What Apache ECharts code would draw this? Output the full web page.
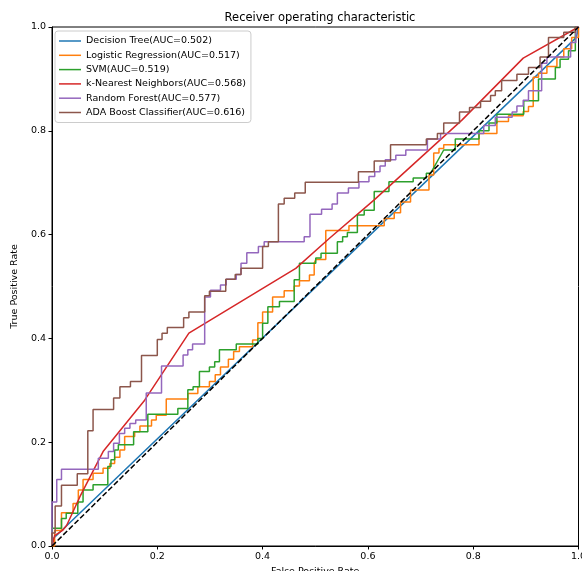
<!DOCTYPE html>
<html><head><meta charset="utf-8">
<script src="https://cdn.jsdelivr.net/npm/echarts@6/dist/echarts.min.js"></script>
<style>html,body{margin:0;padding:0;background:#fff}#c{width:582px;height:571px}</style>
</head><body><div id="c"></div><script>
const titleText = 'Receiver operating characteristic';
const xName = 'False Positive Rate';
const yName = 'True Positive Rate';
const seriesNames = [
  'Decision Tree(AUC=0.502)',
  'Logistic Regression(AUC=0.517)',
  'SVM(AUC=0.519)',
  'k-Nearest Neighbors(AUC=0.568)',
  'Random Forest(AUC=0.577)',
  'ADA Boost Classifier(AUC=0.616)'
];
const colors = ['#1f77b4','#ff7f0e','#2ca02c','#d62728','#9467bd','#8c564b'];

const decisionTree = [[0,0],[0.003,0.015],[0.996,0.98],[1,1]];

const logistic = [[0,0],[0.005,0],[0.005,0.03],[0.018,0.03],[0.018,0.064],[0.04,0.064],[0.04,0.082],[0.05,0.082],[0.05,0.108],[0.059,0.108],[0.059,0.128],[0.078,0.128],[0.078,0.14],[0.097,0.14],[0.097,0.15],[0.11,0.15],[0.11,0.159],[0.119,0.159],[0.119,0.171],[0.129,0.171],[0.129,0.185],[0.138,0.185],[0.138,0.211],[0.157,0.211],[0.157,0.22],[0.167,0.22],[0.167,0.231],[0.189,0.231],[0.189,0.243],[0.198,0.243],[0.198,0.252],[0.217,0.252],[0.217,0.283],[0.258,0.283],[0.258,0.294],[0.277,0.294],[0.277,0.307],[0.299,0.307],[0.299,0.317],[0.31,0.317],[0.31,0.33],[0.32,0.33],[0.32,0.345],[0.335,0.345],[0.335,0.36],[0.345,0.36],[0.345,0.375],[0.356,0.375],[0.356,0.384],[0.381,0.384],[0.381,0.397],[0.391,0.397],[0.391,0.43],[0.4,0.43],[0.4,0.451],[0.419,0.451],[0.419,0.48],[0.441,0.48],[0.441,0.492],[0.46,0.492],[0.46,0.501],[0.47,0.501],[0.47,0.511],[0.489,0.511],[0.489,0.522],[0.498,0.522],[0.498,0.545],[0.501,0.545],[0.501,0.552],[0.52,0.552],[0.52,0.608],[0.564,0.608],[0.564,0.617],[0.631,0.617],[0.631,0.631],[0.65,0.631],[0.65,0.642],[0.662,0.642],[0.662,0.663],[0.681,0.663],[0.681,0.686],[0.716,0.686],[0.716,0.715],[0.725,0.715],[0.725,0.757],[0.735,0.757],[0.735,0.766],[0.744,0.766],[0.744,0.773],[0.811,0.773],[0.811,0.795],[0.845,0.795],[0.845,0.818],[0.867,0.818],[0.867,0.829],[0.895,0.829],[0.895,0.837],[0.905,0.837],[0.905,0.847],[0.914,0.847],[0.914,0.903],[0.924,0.903],[0.924,0.911],[0.94,0.911],[0.94,0.924],[0.959,0.924],[0.959,0.942],[0.972,0.942],[0.972,0.958],[0.987,0.958],[0.987,0.98],[1,0.98],[1,1]];

const svm = [[0,0],[0,0.034],[0.018,0.034],[0.018,0.053],[0.027,0.053],[0.027,0.063],[0.049,0.063],[0.049,0.085],[0.059,0.085],[0.059,0.108],[0.078,0.108],[0.078,0.118],[0.106,0.118],[0.106,0.153],[0.112,0.153],[0.112,0.166],[0.119,0.166],[0.119,0.185],[0.126,0.185],[0.126,0.195],[0.155,0.195],[0.155,0.22],[0.182,0.22],[0.182,0.254],[0.239,0.254],[0.239,0.265],[0.258,0.265],[0.258,0.301],[0.268,0.301],[0.268,0.307],[0.28,0.307],[0.28,0.336],[0.299,0.336],[0.299,0.345],[0.309,0.345],[0.309,0.355],[0.318,0.355],[0.318,0.378],[0.35,0.378],[0.35,0.389],[0.391,0.389],[0.391,0.4],[0.4,0.4],[0.4,0.429],[0.41,0.429],[0.41,0.461],[0.432,0.461],[0.432,0.471],[0.46,0.471],[0.46,0.513],[0.47,0.513],[0.47,0.545],[0.501,0.545],[0.501,0.555],[0.511,0.555],[0.511,0.564],[0.542,0.564],[0.542,0.586],[0.552,0.586],[0.552,0.596],[0.561,0.596],[0.561,0.604],[0.58,0.604],[0.58,0.638],[0.593,0.638],[0.593,0.647],[0.612,0.647],[0.612,0.683],[0.64,0.683],[0.64,0.702],[0.686,0.702],[0.686,0.709],[0.711,0.709],[0.711,0.718],[0.719,0.718],[0.744,0.763],[0.766,0.763],[0.766,0.784],[0.811,0.784],[0.811,0.8],[0.83,0.8],[0.83,0.815],[0.845,0.815],[0.845,0.832],[0.896,0.832],[0.896,0.858],[0.924,0.858],[0.924,0.9],[0.956,0.9],[0.956,0.922],[0.965,0.922],[0.965,0.938],[0.981,0.938],[0.981,0.954],[0.994,0.954],[0.994,1],[1,1]];

const knn = [[0,0],[0.005,0.02],[0.02,0.03],[0.028,0.04],[0.053,0.095],[0.097,0.182],[0.176,0.281],[0.26,0.41],[0.463,0.535],[0.527,0.593],[0.612,0.667],[0.779,0.821],[0.895,0.94],[1,1]];

const randomForest = [[0,0],[0,0.085],[0.009,0.085],[0.009,0.128],[0.018,0.128],[0.018,0.148],[0.088,0.148],[0.088,0.169],[0.107,0.169],[0.107,0.182],[0.117,0.182],[0.117,0.198],[0.128,0.198],[0.128,0.217],[0.138,0.217],[0.138,0.227],[0.148,0.227],[0.148,0.236],[0.159,0.236],[0.159,0.243],[0.179,0.243],[0.179,0.295],[0.208,0.295],[0.208,0.347],[0.249,0.347],[0.249,0.368],[0.258,0.368],[0.258,0.378],[0.267,0.378],[0.267,0.389],[0.29,0.389],[0.29,0.48],[0.301,0.48],[0.301,0.493],[0.32,0.493],[0.32,0.503],[0.331,0.503],[0.331,0.514],[0.35,0.514],[0.35,0.523],[0.359,0.523],[0.359,0.545],[0.37,0.545],[0.37,0.565],[0.392,0.565],[0.392,0.577],[0.403,0.577],[0.403,0.586],[0.479,0.586],[0.479,0.596],[0.49,0.596],[0.49,0.639],[0.512,0.639],[0.512,0.649],[0.532,0.649],[0.532,0.659],[0.542,0.659],[0.542,0.68],[0.563,0.68],[0.563,0.69],[0.583,0.69],[0.583,0.702],[0.602,0.702],[0.602,0.712],[0.613,0.712],[0.613,0.721],[0.623,0.721],[0.623,0.732],[0.633,0.732],[0.633,0.744],[0.653,0.744],[0.653,0.753],[0.672,0.753],[0.672,0.763],[0.713,0.763],[0.713,0.784],[0.738,0.784],[0.738,0.795],[0.82,0.795],[0.82,0.81],[0.842,0.81],[0.842,0.826],[0.874,0.826],[0.874,0.836],[0.883,0.836],[0.883,0.848],[0.895,0.848],[0.895,0.859],[0.905,0.859],[0.905,0.877],[0.93,0.877],[0.93,0.93],[0.94,0.93],[0.94,0.942],[0.985,0.942],[0.985,0.97],[0.995,0.97],[0.995,1],[1,1]];

const adaBoost = [[0,0],[0,0.025],[0.006,0.025],[0.006,0.077],[0.018,0.077],[0.018,0.117],[0.048,0.117],[0.048,0.139],[0.068,0.139],[0.068,0.222],[0.078,0.222],[0.078,0.263],[0.117,0.263],[0.117,0.285],[0.129,0.285],[0.129,0.307],[0.149,0.307],[0.149,0.317],[0.17,0.317],[0.17,0.367],[0.2,0.367],[0.2,0.398],[0.209,0.398],[0.209,0.41],[0.219,0.41],[0.219,0.421],[0.25,0.421],[0.25,0.44],[0.26,0.44],[0.26,0.451],[0.29,0.451],[0.29,0.482],[0.299,0.482],[0.299,0.491],[0.33,0.491],[0.33,0.514],[0.348,0.514],[0.348,0.523],[0.359,0.523],[0.359,0.535],[0.4,0.535],[0.4,0.577],[0.411,0.577],[0.411,0.586],[0.43,0.586],[0.43,0.659],[0.441,0.659],[0.441,0.67],[0.461,0.67],[0.461,0.68],[0.481,0.68],[0.481,0.701],[0.582,0.701],[0.582,0.721],[0.612,0.721],[0.612,0.742],[0.643,0.742],[0.643,0.773],[0.711,0.773],[0.711,0.784],[0.732,0.784],[0.732,0.795],[0.744,0.795],[0.744,0.815],[0.774,0.815],[0.774,0.836],[0.793,0.836],[0.793,0.845],[0.814,0.845],[0.814,0.857],[0.833,0.857],[0.833,0.868],[0.842,0.868],[0.842,0.877],[0.854,0.877],[0.854,0.897],[0.883,0.897],[0.883,0.909],[0.905,0.909],[0.905,0.922],[0.927,0.922],[0.927,0.942],[0.943,0.942],[0.943,0.98],[0.972,0.98],[0.972,0.99],[0.994,0.99],[0.994,1],[1,1]];

const chanceLine = [[0,0],[1,1]];
const tickLabels = ['0.0','0.2','0.4','0.6','0.8','1.0'];

const allData = [decisionTree, logistic, svm, knn, randomForest, adaBoost];
const FONT = 'DejaVu Sans';

const chart = echarts.init(document.getElementById('c'), null, {renderer:'canvas'});
const axisCommon = {
  type:'value', min:0, max:1, interval:0.2,
  axisLine:{show:true, onZero:false, lineStyle:{color:'#000', width:1}},
  axisTick:{show:true, length:3.5, inside:false, lineStyle:{color:'#000', width:1}},
  splitLine:{show:false},
  axisLabel:{color:'#000', fontFamily:FONT, fontSize:9.5, margin:6,
    formatter:(v)=>tickLabels[Math.round(v/0.2)]},
  nameLocation:'middle',
  nameTextStyle:{color:'#000', fontFamily:FONT, fontSize:9.5}
};
const series = allData.map((d,i)=>({
  name: seriesNames[i], type:'line', data:d, symbol:'none', showSymbol:false,
  lineStyle:{color:colors[i], width:1.5}, itemStyle:{color:colors[i]},
  z: 2+i, silent:true
}));
series.push({
  name:'chance', type:'line', data:chanceLine, symbol:'none',
  lineStyle:{color:'#000', width:1.5, type:[5.5,2.4]}, z:10, silent:true
});
chart.setOption({
  animation:false,
  backgroundColor:'#fff',
  title:{text:titleText, left:315, top:7, textAlign:'center',
    textStyle:{color:'#000', fontFamily:FONT, fontSize:11.5, fontWeight:'normal'}},
  grid:{left:52, top:27, width:526.5, height:519, show:true, borderColor:'#000', borderWidth:1,
    containLabel:false, outerBoundsMode:'none'},
  xAxis:Object.assign({}, axisCommon, {name:xName, nameGap:15}),
  yAxis:Object.assign({}, axisCommon, {name:yName, nameGap:25}),
  legend:{
    orient:'vertical', left:55, top:31,
    data: seriesNames.map(n=>({name:n, icon:'rect'})),
    itemWidth:22, itemHeight:1.5, itemGap:2.3,
    padding:[4,5,4,4],
    backgroundColor:'rgba(255,255,255,0.8)', borderColor:'#cccccc', borderWidth:1, borderRadius:3,
    textStyle:{color:'#000', fontFamily:FONT, fontSize:9.5, lineHeight:12},
    selectedMode:false
  },
  series
});
</script></body></html>
